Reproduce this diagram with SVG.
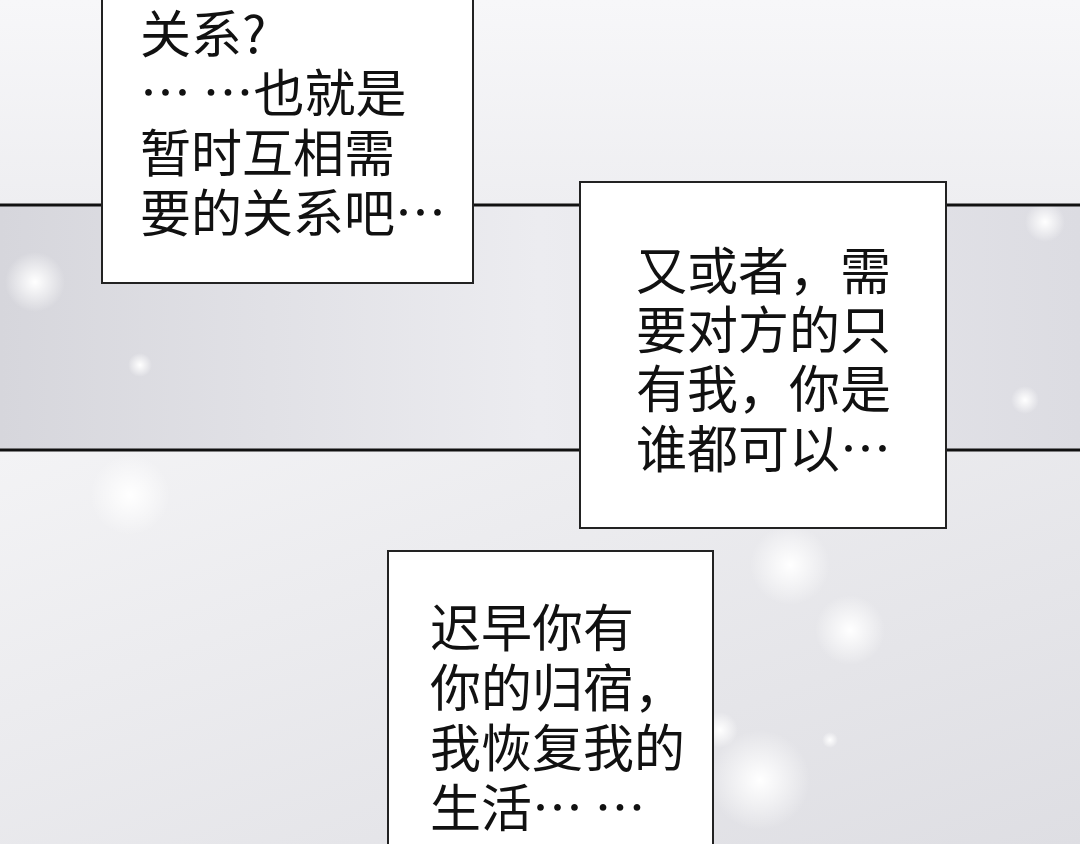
<svg xmlns="http://www.w3.org/2000/svg" width="1080" height="844" viewBox="0 0 1080 844">
<defs>
<linearGradient id="top" x1="0" y1="0" x2="0" y2="1"><stop offset="0" stop-color="#f7f7f9"/><stop offset="1" stop-color="#eeeef1"/></linearGradient>
<linearGradient id="mid" x1="0" y1="0" x2="1" y2="0"><stop offset="0" stop-color="#d6d6dc"/><stop offset="0.5" stop-color="#ececf0"/><stop offset="1" stop-color="#dcdce2"/></linearGradient>
<linearGradient id="bot" x1="0" y1="0" x2="1" y2="1"><stop offset="0" stop-color="#f3f3f5"/><stop offset="1" stop-color="#dedee3"/></linearGradient>
<radialGradient id="glow"><stop offset="0" stop-color="#fff" stop-opacity="1"/><stop offset="1" stop-color="#fff" stop-opacity="0"/></radialGradient>
<style>
.box{fill:#fff;stroke:#222;stroke-width:2}
.t{font-family:"Noto Sans CJK SC","Noto Sans",sans-serif;font-size:51px;fill:#111}
.ln{stroke:#111;stroke-width:3}
</style>
</defs>
<rect width="1080" height="205" fill="url(#top)"/>
<rect y="205" width="1080" height="245" fill="url(#mid)"/>
<rect y="450" width="1080" height="394" fill="url(#bot)"/>
<g fill="url(#glow)">
<circle cx="35" cy="282" r="30"/><circle cx="140" cy="365" r="12"/><circle cx="1045" cy="222" r="20"/><circle cx="1025" cy="400" r="14"/>
<circle cx="130" cy="495" r="40"/><circle cx="790" cy="565" r="40"/><circle cx="850" cy="630" r="35"/><circle cx="760" cy="780" r="50"/><circle cx="720" cy="730" r="18"/><circle cx="830" cy="740" r="8"/>
</g>
<line class="ln" x1="0" y1="205" x2="1080" y2="205"/>
<line class="ln" x1="0" y1="450" x2="1080" y2="450"/>
<g id="box1"><rect class="box" x="102" y="-5" width="371" height="288"/>
<text class="t" x="140" y="53">关系?</text><text class="t" x="140" y="112">… …也就是</text><text class="t" x="140" y="172">暂时互相需</text><text class="t" x="140" y="232">要的关系吧…</text></g>
<g id="box2"><rect class="box" x="580" y="182" width="366" height="346"/>
<text class="t" x="636" y="290">又或者，需</text><text class="t" x="636" y="349">要对方的只</text><text class="t" x="636" y="408">有我，你是</text><text class="t" x="636" y="468">谁都可以…</text></g>
<g id="box3"><rect class="box" x="388" y="551" width="325" height="300"/>
<text class="t" x="430" y="647">迟早你有</text><text class="t" x="430" y="707">你的归宿，</text><text class="t" x="430" y="767">我恢复我的</text><text class="t" x="430" y="827">生活… …</text></g>
</svg>
